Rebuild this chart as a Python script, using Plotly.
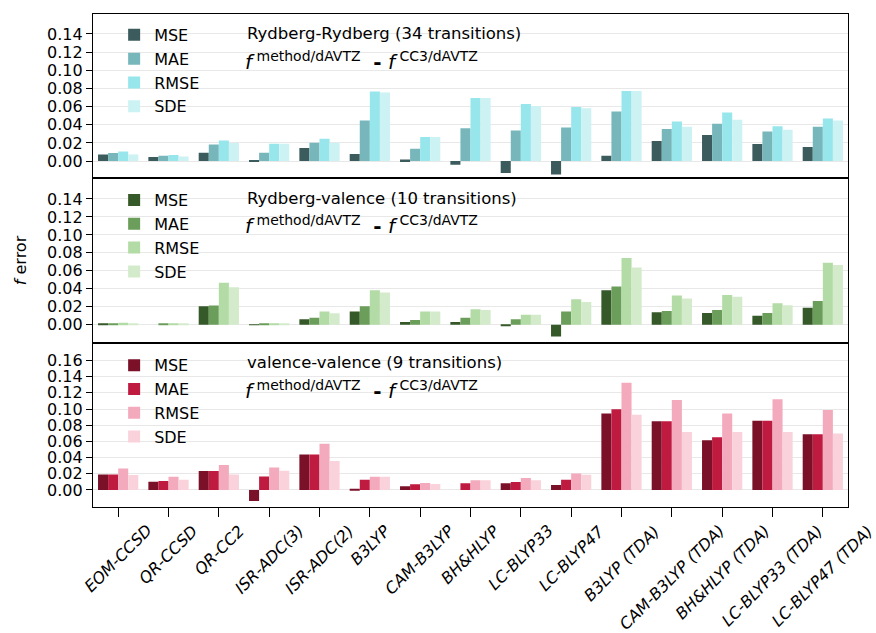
import plotly.graph_objects as go
from plotly.subplots import make_subplots

methods = ["EOM-CCSD", "QR-CCSD", "QR-CC2", "ISR-ADC(3)", "ISR-ADC(2)", "B3LYP",
           "CAM-B3LYP", "BH&HLYP", "LC-BLYP33", "LC-BLYP47", "B3LYP (TDA)",
           "CAM-B3LYP (TDA)", "BH&HLYP (TDA)", "LC-BLYP33 (TDA)", "LC-BLYP47 (TDA)"]
stats = ["MSE", "MAE", "RMSE", "SDE"]

# Rydberg-Rydberg (34 transitions)
rr_mse = [0.0073, 0.0044, 0.0092, 0.0010, 0.0143, 0.0077, 0.0018, -0.0040, -0.0132, -0.0147,
          0.0059, 0.0220, 0.0286, 0.0187, 0.0154]
rr_mae = [0.0088, 0.0059, 0.0183, 0.0092, 0.0201, 0.0447, 0.0136, 0.0363, 0.0337, 0.0370,
          0.0546, 0.0352, 0.0410, 0.0326, 0.0377]
rr_rmse = [0.0106, 0.0066, 0.0227, 0.0190, 0.0245, 0.0766, 0.0264, 0.0696, 0.0630, 0.0597,
           0.0773, 0.0436, 0.0535, 0.0385, 0.0469]
rr_sde = [0.0073, 0.0051, 0.0198, 0.0190, 0.0201, 0.0755, 0.0264, 0.0696, 0.0608, 0.0582,
          0.0773, 0.0377, 0.0454, 0.0344, 0.0447]

# Rydberg-valence (10 transitions)
rv_mse = [0.0007, 0.0000, 0.0205, -0.0007, 0.0060, 0.0146, 0.0030, 0.0030, -0.0015, -0.0130,
          0.0384, 0.0138, 0.0131, 0.0101, 0.0190]
rv_mae = [0.0011, 0.0010, 0.0213, 0.0007, 0.0078, 0.0205, 0.0052, 0.0078, 0.0060, 0.0146,
          0.0425, 0.0153, 0.0164, 0.0131, 0.0265]
rv_rmse = [0.0022, 0.0010, 0.0466, 0.0010, 0.0146, 0.0384, 0.0146, 0.0172, 0.0112, 0.0284,
           0.0743, 0.0325, 0.0332, 0.0239, 0.0690]
rv_sde = [0.0011, 0.0010, 0.0418, 0.0010, 0.0127, 0.0358, 0.0146, 0.0164, 0.0112, 0.0254,
          0.0638, 0.0291, 0.0310, 0.0216, 0.0664]

# valence-valence (9 transitions)
vv_mse = [0.0193, 0.0103, 0.0234, -0.0135, 0.0439, 0.0016, 0.0045, 0.0000, 0.0082, 0.0062,
          0.0944, 0.0849, 0.0615, 0.0857, 0.0689]
vv_mae = [0.0193, 0.0111, 0.0234, 0.0168, 0.0439, 0.0127, 0.0070, 0.0082, 0.0098, 0.0127,
          0.0997, 0.0849, 0.0652, 0.0857, 0.0689]
vv_rmse = [0.0267, 0.0164, 0.0308, 0.0279, 0.0570, 0.0164, 0.0086, 0.0119, 0.0148, 0.0205,
           0.1325, 0.1112, 0.0944, 0.1120, 0.0989]
vv_sde = [0.0185, 0.0127, 0.0193, 0.0238, 0.0357, 0.0164, 0.0074, 0.0119, 0.0119, 0.0189,
          0.0931, 0.0718, 0.0718, 0.0718, 0.0697]

panel_titles = ["Rydberg-Rydberg (34 transitions)",
                "Rydberg-valence (10 transitions)",
                "valence-valence (9 transitions)"]
panel_data = [[rr_mse, rr_mae, rr_rmse, rr_sde],
              [rv_mse, rv_mae, rv_rmse, rv_sde],
              [vv_mse, vv_mae, vv_rmse, vv_sde]]
panel_colors = [["#3c5b5c", "#77b7bb", "#97e6ec", "#ccf2f4"],
                ["#36592a", "#6b9e5b", "#b3dba6", "#d3ebcb"],
                ["#7a1128", "#bf1a40", "#f3aabd", "#f9d2dc"]]
y_ranges = [[-0.019, 0.162], [-0.020, 0.163], [-0.021, 0.182]]
y_ticks = [[0.0, 0.02, 0.04, 0.06, 0.08, 0.10, 0.12, 0.14],
           [0.0, 0.02, 0.04, 0.06, 0.08, 0.10, 0.12, 0.14],
           [0.0, 0.02, 0.04, 0.06, 0.08, 0.10, 0.12, 0.14, 0.16]]

FONT = "DejaVu Sans"

fig = make_subplots(rows=3, cols=1, shared_xaxes=True, vertical_spacing=0)

legend_names = ["legend", "legend2", "legend3"]
for p in range(3):
    for s, name in enumerate(stats):
        fig.add_trace(go.Bar(
            x=methods, y=panel_data[p][s], name=name,
            marker=dict(color=panel_colors[p][s], line=dict(width=0)),
            legend=legend_names[p],
        ), row=p + 1, col=1)

fig.update_layout(
    width=876, height=633,
    margin=dict(l=93, r=28, t=14, b=126),
    barmode="group", bargap=0.2, bargroupgap=0,
    plot_bgcolor="white", paper_bgcolor="white",
    font=dict(family=FONT, size=16, color="black"),
    showlegend=True,
)

legend_tops = [0.992, 0.657, 0.322]
for p in range(3):
    fig.update_layout({legend_names[p]: dict(
        x=0.028, y=legend_tops[p], xanchor="left", yanchor="top",
        bgcolor="rgba(0,0,0,0)", borderwidth=0,
        font=dict(family=FONT, size=16, color="black"),
        itemwidth=30, tracegroupgap=0,
    )})

for p in range(3):
    fig.update_yaxes(
        range=y_ranges[p], tickvals=y_ticks[p], tickformat=".2f",
        showgrid=True, gridcolor="#e8e8e8", gridwidth=1, zeroline=False,
        showline=True, mirror=True, linecolor="black", linewidth=1.3,
        ticks="outside", ticklen=6, tickcolor="black", tickwidth=1,
        tickfont=dict(family=FONT, size=16, color="black"),
        row=p + 1, col=1)
    fig.update_xaxes(
        range=[-0.5, len(methods) - 0.5],
        showgrid=False, zeroline=False, showticklabels=False,
        showline=True, mirror=True, linecolor="black", linewidth=1.3,
        row=p + 1, col=1)

fig.update_xaxes(ticks="", row=1, col=1)
fig.update_xaxes(ticks="", row=2, col=1)
fig.update_xaxes(ticks="outside", ticklen=9, tickcolor="black", tickwidth=1,
                 row=3, col=1)

# method names centred under their ticks, rotated 45 degrees
for m in methods:
    fig.add_annotation(
        text=m, xref="x3", yref="y3 domain", x=m, y=0,
        xanchor="center", yanchor="top", yshift=-13, textangle=-45,
        showarrow=False, borderpad=0,
        font=dict(family=FONT, size=16, color="black", style="italic"))

fig.update_yaxes(
    title=dict(text="<i>f</i> error", font=dict(family=FONT, size=16, color="black"),
               standoff=16),
    row=2, col=1)

xrefs = ["x domain", "x2 domain", "x3 domain"]
yrefs = ["y domain", "y2 domain", "y3 domain"]
formula = ("<i>f</i><sup> method/dAVTZ</sup>"
           "&nbsp; <b>-</b> "
           "<i>f</i><sup> CC3/dAVTZ</sup>")
for p in range(3):
    fig.add_annotation(
        text=panel_titles[p], xref=xrefs[p], yref=yrefs[p],
        x=0.201, y=0.88, xanchor="left", yanchor="middle", showarrow=False,
        font=dict(family=FONT, size=16.5, color="black"))
    fig.add_annotation(
        text=formula, xref=xrefs[p], yref=yrefs[p],
        x=0.199, y=0.715, xanchor="left", yanchor="middle", showarrow=False,
        font=dict(family=FONT, size=20, color="black"))

fig.write_html("out.html")
